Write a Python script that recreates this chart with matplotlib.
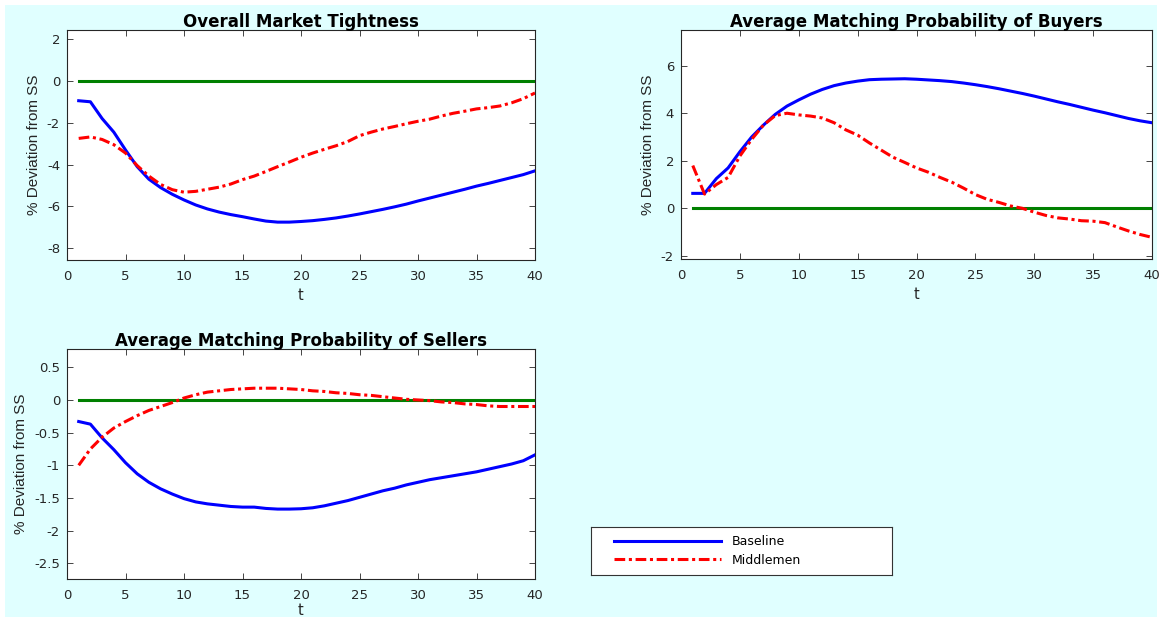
import numpy as np
import matplotlib
matplotlib.use('Agg')
from matplotlib import pyplot as plt
from matplotlib.patches import Rectangle

plt.rcParams['font.family'] = ['DejaVu Sans']

# periods
t = np.arange(1, 41)

# Overall Market Tightness
tight_base = [-0.95, -1.0, -1.8, -2.45, -3.3, -4.1, -4.7, -5.1, -5.42, -5.69,
              -5.93, -6.12, -6.27, -6.39, -6.49, -6.6, -6.7, -6.75, -6.75, -6.72,
              -6.68, -6.62, -6.55, -6.46, -6.36, -6.25, -6.14, -6.02, -5.89, -5.74,
              -5.6, -5.46, -5.32, -5.18, -5.03, -4.9, -4.76, -4.62, -4.48, -4.3]
tight_mid = [-2.75, -2.68, -2.8, -3.05, -3.45, -4.05, -4.55, -4.95, -5.2, -5.32,
             -5.28, -5.18, -5.08, -4.93, -4.72, -4.55, -4.33, -4.1, -3.88, -3.65,
             -3.45, -3.27, -3.1, -2.9, -2.62, -2.45, -2.3, -2.18, -2.05, -1.93,
             -1.83, -1.68, -1.55, -1.45, -1.34, -1.28, -1.2, -1.05, -0.85, -0.58]

# Average Matching Probability of Buyers
buy_base = [0.63, 0.63, 1.25, 1.7, 2.38, 3.0, 3.5, 3.95, 4.3, 4.56,
            4.8, 5.0, 5.16, 5.27, 5.35, 5.41, 5.43, 5.44, 5.45, 5.43,
            5.4, 5.37, 5.33, 5.27, 5.2, 5.12, 5.03, 4.93, 4.83, 4.72,
            4.6, 4.48, 4.37, 4.25, 4.13, 4.02, 3.9, 3.78, 3.68, 3.6]
buy_mid = [1.8, 0.6, 1.0, 1.3, 2.2, 2.9, 3.5, 3.9, 4.0, 3.93,
           3.88, 3.8, 3.6, 3.3, 3.08, 2.75, 2.45, 2.15, 1.93, 1.7,
           1.52, 1.3, 1.1, 0.85, 0.58, 0.38, 0.25, 0.1, 0.0, -0.16,
           -0.3, -0.4, -0.45, -0.52, -0.54, -0.6, -0.78, -0.95, -1.1, -1.22]

# Average Matching Probability of Sellers
sell_base = [-0.33, -0.37, -0.58, -0.76, -0.96, -1.13, -1.26, -1.36, -1.44, -1.51,
             -1.56, -1.59, -1.61, -1.63, -1.64, -1.64, -1.66, -1.67, -1.67, -1.665,
             -1.65, -1.62, -1.58, -1.54, -1.49, -1.44, -1.39, -1.35, -1.3, -1.26,
             -1.22, -1.19, -1.16, -1.13, -1.1, -1.06, -1.02, -0.98, -0.93, -0.84]
sell_mid = [-1.0, -0.75, -0.57, -0.43, -0.33, -0.24, -0.16, -0.1, -0.04, 0.03,
            0.08, 0.12, 0.14, 0.16, 0.17, 0.18, 0.18, 0.18, 0.17, 0.16,
            0.14, 0.13, 0.11, 0.1, 0.08, 0.07, 0.05, 0.03, 0.01, 0.0,
            -0.01, -0.03, -0.04, -0.06, -0.07, -0.09, -0.1, -0.1, -0.1, -0.1]

titles = ['Overall Market Tightness',
          'Average Matching Probability of Buyers',
          'Average Matching Probability of Sellers']
ylims = [(-8.56, 2.43), (-2.13, 7.5), (-2.74, 0.78)]
yticks = [np.arange(-8, 3, 2), np.arange(-2, 7, 2), np.arange(-2.5, 0.6, 0.5)]
ytlabels = [['-8', '-6', '-4', '-2', '0', '2'],
            ['-2', '0', '2', '4', '6'],
            ['-2.5', '-2', '-1.5', '-1', '-0.5', '0', '0.5']]
xlpads = [4, 4, 1.2]

W, H = 1162, 617
fig = plt.figure(figsize=(W / 100, H / 100), dpi=100, facecolor='white')
fig.patches.append(Rectangle((5 / W, 0), (W - 10) / W, (H - 5) / H,
                             transform=fig.transFigure, facecolor='#e0ffff',
                             edgecolor='none', zorder=-10))

def box(l, r, top, bot):
    return [l / W, 1 - bot / H, (r - l) / W, (bot - top) / H]

boxes = [box(67, 535, 30, 260), box(681, 1152, 30, 259), box(67, 535, 349, 579)]
data = [(tight_base, tight_mid), (buy_base, buy_mid), (sell_base, sell_mid)]

tc = '#262626'
for i in range(3):
    ax = fig.add_axes(boxes[i])
    base, mid = data[i]
    ax.plot(t, np.zeros(len(t)), color='#008000', lw=2.2)
    lb, = ax.plot(t, base, color='blue', lw=2.2)
    lm, = ax.plot(t, mid, color='red', lw=2.2, ls=(0, (3.5, 1.2, 1, 1.2)))
    ax.set_xlim(0, 40)
    ax.set_ylim(*ylims[i])
    ax.set_xticks(np.arange(0, 41, 5))
    ax.set_yticks(yticks[i])
    ax.set_yticklabels(ytlabels[i])
    ax.tick_params(direction='in', top=True, right=True, labelsize=9.5,
                   colors=tc, length=4, width=0.6)
    ax.tick_params(axis='x', pad=7)
    ax.tick_params(axis='y', pad=5)
    for s in ax.spines.values():
        s.set_color(tc)
        s.set_linewidth(0.8)
    ax.set_title(titles[i], fontsize=12, fontweight='bold', pad=2)
    ax.set_xlabel('t', fontsize=10.5, color=tc, labelpad=xlpads[i])
    ax.set_ylabel('% Deviation from SS', fontsize=11, color=tc, labelpad=4.5,
                  family='Liberation Sans')

# legend box in the empty bottom-right slot
lax = fig.add_axes(box(591, 892, 527, 575))
lax.set_xticks([])
lax.set_yticks([])
for s in lax.spines.values():
    s.set_color('#333333')
    s.set_linewidth(0.8)
lax.legend([lb, lm], ['Baseline', 'Middlemen'], loc='center left',
           bbox_to_anchor=(0.055, 0.5), fontsize=9, handlelength=8.6,
           handletextpad=0.8, frameon=False, borderpad=0, labelspacing=0.45)

plt.savefig('out.png', dpi=100, facecolor=fig.get_facecolor())
